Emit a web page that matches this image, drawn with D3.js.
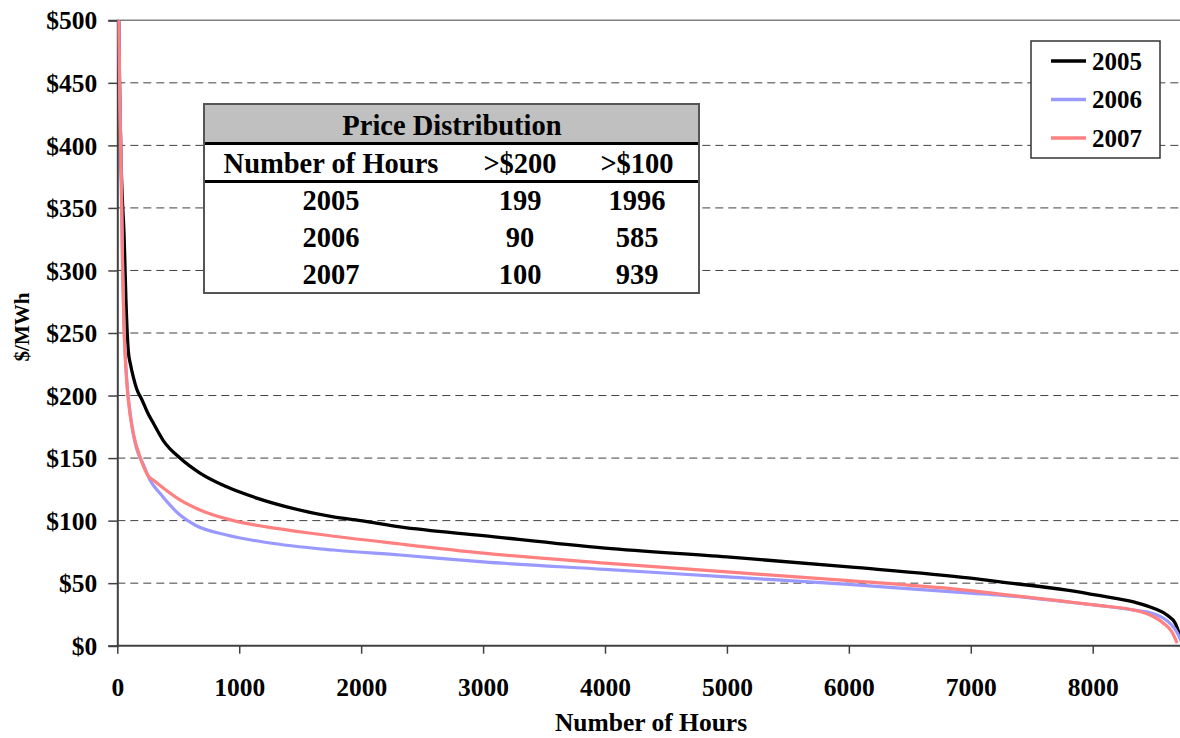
<!DOCTYPE html>
<html>
<head>
<meta charset="utf-8">
<script src="https://cdn.jsdelivr.net/npm/d3@7"></script>
<style>
  html, body { margin: 0; padding: 0; background: #fff; }
  svg text { font-family: "Liberation Serif", "Times New Roman", serif; font-weight: bold; fill: #000; }
</style>
</head>
<body>
<svg id="chart" width="1180" height="738"></svg>
<script>
// ---- data ----
const hours2005 = [0, 10, 20, 30, 40, 55, 71, 90, 110, 131, 160, 200, 250, 295, 377, 514, 678, 897, 1144, 1390, 1772, 1996, 2319, 3000, 4000, 5000, 6000, 7000, 7242, 7789, 8062, 8335, 8499, 8609, 8677, 8718];
const price2005 = [700, 520, 440, 390, 360, 330, 276, 236, 224, 215, 205, 197, 186, 178, 164, 150, 138, 127, 118, 111, 103, 100, 95, 88, 78, 71, 63, 54, 51, 44.5, 40, 35, 30, 24.5, 18, 7];

const hours2006 = [0, 10, 20, 28, 36, 44, 55, 70, 85, 100, 131, 160, 213, 268, 350, 514, 637, 897, 1225, 1772, 2319, 3000, 4000, 5000, 6000, 7000, 7242, 7789, 8062, 8335, 8499, 8609, 8677, 8730];
const price2006 = [700, 520, 440, 400, 350, 300, 255, 224, 203, 190, 169, 157, 145, 132.5, 121.8, 104.5, 96.5, 88.5, 82.5, 76.5, 72.5, 67, 61, 55, 49, 42, 40.5, 35, 32, 28.5, 25.5, 20, 13, 3];

const hours2007 = [0, 10, 20, 28, 36, 44, 55, 70, 90, 131, 186, 254, 300, 364, 514, 678, 952, 1225, 1636, 2319, 3000, 4000, 5000, 6000, 7000, 7242, 7789, 8062, 8335, 8471, 8580, 8650, 8693];
const price2007 = [700, 520, 440, 400, 350, 300, 255, 222, 197, 170, 151, 135.7, 132, 127, 116.5, 108.5, 100, 95, 89.3, 81.3, 74, 66, 59, 52, 44, 41.3, 35.2, 32, 28.5, 24.5, 18, 11, 2];

const seriesNames = ["2005", "2006", "2007"];
const seriesColors = ["#000000", "#9999ff", "#ff8080"];

const xTicks = [0, 1000, 2000, 3000, 4000, 5000, 6000, 7000, 8000];
const yTicks = [0, 50, 100, 150, 200, 250, 300, 350, 400, 450, 500];

const tableTitle = "Price Distribution";
const tableHeader = ["Number of Hours", ">$200", ">$100"];
const tableYears = ["2005", "2006", "2007"];
const tableOver200 = [199, 90, 100];
const tableOver100 = [1996, 585, 939];

// ---- layout ----
const svg = d3.select("#chart");
const W = 1180, H = 738;
const plotLeft = 117.3, plotTop = 20.3, plotBottom = 645.7;

const x = d3.scaleLinear().domain([0, 8000]).range([plotLeft, 1092.7]);
const y = d3.scaleLinear().domain([0, 500]).range([plotBottom, plotTop]);

svg.append("defs").append("clipPath").attr("id", "plotclip")
  .append("rect").attr("x", plotLeft).attr("y", plotTop).attr("width", W - plotLeft).attr("height", plotBottom - plotTop);

// gridlines
svg.append("g").selectAll("line").data(yTicks.filter(t => t > 0 && t < 500)).join("line")
  .attr("x1", plotLeft).attr("x2", W).attr("y1", d => y(d)).attr("y2", d => y(d))
  .attr("stroke", "#404040").attr("stroke-width", 1).attr("stroke-dasharray", "8,5");

// top border
svg.append("line").attr("x1", plotLeft).attr("x2", W).attr("y1", y(500)).attr("y2", y(500))
  .attr("stroke", "#808080").attr("stroke-width", 1.5);

// y axis
const yAxis = d3.axisLeft(y).tickValues(yTicks).tickSize(9).tickPadding(11).tickFormat(d => "$" + d);
const gy = svg.append("g").attr("transform", `translate(${plotLeft},0)`).call(yAxis);
gy.select(".domain").attr("stroke", "#404040").attr("stroke-width", 2);
gy.selectAll(".tick line").attr("stroke", "#404040").attr("stroke-width", 1.5);
gy.selectAll(".tick text").style("font-size", "25.5px").style("font-family", "Liberation Serif").style("font-weight", "bold").attr("fill", "#000").attr("dy", "0.34em");

// x axis
const xAxis = d3.axisBottom(x).tickValues(xTicks).tickSize(8).tickPadding(24).tickFormat(d3.format("d"));
const gx = svg.append("g").attr("transform", `translate(0,${plotBottom})`).call(xAxis);
gx.select(".domain").remove();
gx.append("line").attr("x1", plotLeft).attr("x2", W).attr("y1", 0).attr("y2", 0).attr("stroke", "#404040").attr("stroke-width", 2);
gx.selectAll(".tick line").attr("stroke", "#404040").attr("stroke-width", 1.5);
gx.selectAll(".tick text").style("font-size", "25.5px").style("font-family", "Liberation Serif").style("font-weight", "bold").attr("fill", "#000");

// axis titles
svg.append("text").attr("x", 651).attr("y", 731).attr("text-anchor", "middle")
  .style("font-size", "25.5px").text("Number of Hours");
svg.append("text").attr("transform", "translate(29,327) rotate(-90)").attr("text-anchor", "middle")
  .style("font-size", "21px").text("$/MWh");

// lines
const allSeries = [
  hours2005.map((h, i) => ({ h, v: price2005[i] })),
  hours2006.map((h, i) => ({ h, v: price2006[i] })),
  hours2007.map((h, i) => ({ h, v: price2007[i] }))
];
const line = d3.line().x(d => x(d.h)).y(d => y(d.v)).curve(d3.curveMonotoneX);
svg.append("g").attr("clip-path", "url(#plotclip)").selectAll("path").data(allSeries).join("path")
  .attr("d", line).attr("fill", "none")
  .attr("stroke", (d, i) => seriesColors[i])
  .attr("stroke-width", (d, i) => i === 0 ? 3.3 : 3.2)
  .attr("stroke-linejoin", "round");

// legend
const lg = svg.append("g");
lg.append("rect").attr("x", 1031).attr("y", 41).attr("width", 129).attr("height", 117)
  .attr("fill", "#fff").attr("stroke", "#333").attr("stroke-width", 1.5);
seriesNames.forEach((name, i) => {
  const ly = 61 + i * 38.5;
  lg.append("line").attr("x1", 1051).attr("x2", 1086).attr("y1", ly).attr("y2", ly)
    .attr("stroke", seriesColors[i]).attr("stroke-width", 3.3);
  lg.append("text").attr("x", 1092).attr("y", ly + 8.5).style("font-size", "25px").text(name);
});

// table
const tb = svg.append("g");
tb.append("rect").attr("x", 204).attr("y", 104).attr("width", 495).attr("height", 189)
  .attr("fill", "#fff").attr("stroke", "#555").attr("stroke-width", 2);
tb.append("rect").attr("x", 205).attr("y", 105).attr("width", 493).attr("height", 37).attr("fill", "#c0c0c0");
tb.append("line").attr("x1", 205).attr("x2", 698).attr("y1", 143.5).attr("y2", 143.5).attr("stroke", "#000").attr("stroke-width", 3);
tb.append("line").attr("x1", 205).attr("x2", 698).attr("y1", 181.5).attr("y2", 181.5).attr("stroke", "#000").attr("stroke-width", 3);
const colX = [331, 520, 637];
const tfs = "28.5px";
tb.append("text").attr("x", 452).attr("y", 135).attr("text-anchor", "middle").style("font-size", tfs).text(tableTitle);
tableHeader.forEach((t, j) => {
  tb.append("text").attr("x", colX[j]).attr("y", 173).attr("text-anchor", "middle").style("font-size", tfs).text(t);
});
tableYears.forEach((yr, i) => {
  const by = 210 + i * 37;
  [yr, tableOver200[i], tableOver100[i]].forEach((v, j) => {
    tb.append("text").attr("x", colX[j]).attr("y", by).attr("text-anchor", "middle").style("font-size", tfs).text(v);
  });
});
</script>
</body>
</html>
